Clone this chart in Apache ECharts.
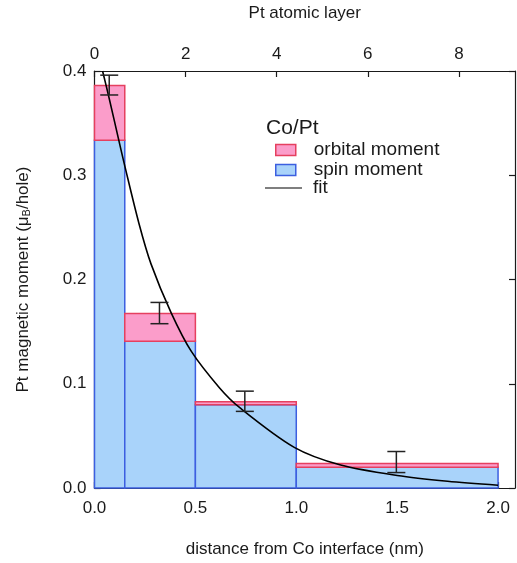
<!DOCTYPE html>
<html>
<head>
<meta charset="utf-8">
<script src="https://cdn.jsdelivr.net/npm/echarts@6/dist/echarts.min.js"></script>
<style>
  html, body { margin: 0; padding: 0; background: #fff; }
  #chart { width: 517px; height: 563px; }
</style>
</head>
<body>
<div id="chart"></div>
<script>
// bins in nm (left edge, right edge)
const binEdges = [0, 0.15, 0.5, 1.0, 2.0];
const spinMoment = [0.3335, 0.1408, 0.0798, 0.0198];
const totalMoment = [0.386, 0.1674, 0.0827, 0.0236];

// error bars: x position, low, high
const errX = [0.073, 0.322, 0.745, 1.496];
const errLow = [0.377, 0.1576, 0.0735, 0.0148];
const errHigh = [0.396, 0.178, 0.0929, 0.035];

// fit curve
const fitX = [0.04, 0.07, 0.12, 0.15, 0.22, 0.28, 0.38, 0.48, 0.62, 0.72, 0.99, 1.22, 1.50, 1.75, 2.00];
const fitY = [0.400, 0.376, 0.334, 0.309, 0.254, 0.215, 0.168, 0.131, 0.096, 0.077, 0.039, 0.022, 0.012, 0.0065, 0.0027];

const xTicks = [0, 0.5, 1.0, 1.5, 2.0];
const layerTicks = [0, 2, 4, 6, 8];

const pink = { fill: '#fb9dca', stroke: '#e5405f' };
const blue = { fill: '#a9d3fa', stroke: '#3c5fe0' };
const font = 'Liberation Sans, Arial, Helvetica, sans-serif';
const ink = '#1a1a1a';

const spinData = [], orbData = [];
for (let i = 0; i < spinMoment.length; i++) {
    spinData.push([binEdges[i], binEdges[i + 1], 0, spinMoment[i]]);
    orbData.push([binEdges[i], binEdges[i + 1], spinMoment[i], totalMoment[i]]);
}
const errData = errX.map((x, i) => [x, errLow[i], errHigh[i]]);
const fitData = fitX.map((x, i) => [x, fitY[i]]);

function binRect(col) {
    return function (params, api) {
        const a = api.coord([api.value(0), api.value(2)]);
        const b = api.coord([api.value(1), api.value(3)]);
        return {
            type: 'rect',
            shape: { x: a[0], y: b[1], width: b[0] - a[0], height: a[1] - b[1] },
            style: { fill: col.fill, stroke: col.stroke, lineWidth: 1.5 }
        };
    };
}

function errBar(params, api) {
    const lo = api.coord([api.value(0), api.value(1)]);
    const hi = api.coord([api.value(0), api.value(2)]);
    const w = 9;
    const st = { stroke: '#222', lineWidth: 1.5 };
    return {
        type: 'group',
        children: [
            { type: 'line', shape: { x1: lo[0], y1: lo[1], x2: hi[0], y2: hi[1] }, style: st },
            { type: 'line', shape: { x1: lo[0] - w, y1: lo[1], x2: lo[0] + w, y2: lo[1] }, style: st },
            { type: 'line', shape: { x1: hi[0] - w, y1: hi[1], x2: hi[0] + w, y2: hi[1] }, style: st }
        ]
    };
}

const axisLine = { show: true, onZero: false, lineStyle: { color: ink, width: 1.2 } };
const tickIn = { show: true, inside: true, length: 6, lineStyle: { color: ink, width: 1.2 } };
const lbl = { color: ink, fontSize: 17, fontFamily: font };

const chart = echarts.init(document.getElementById('chart'));
chart.setOption({
    animation: false,
    backgroundColor: '#fff',
    title: {
        text: 'Co/Pt', left: 261, top: 113,
        textStyle: { fontSize: 21, fontWeight: 'normal', color: ink, fontFamily: font }
    },
    legend: [{
        orient: 'vertical', left: 275, top: 140, padding: 0, itemGap: 0,
        itemWidth: 20, itemHeight: 11,
        textStyle: { fontSize: 19, lineHeight: 20, color: ink, fontFamily: font, padding: [0, 0, 0, 13] },
        data: [
            { name: 'orbital moment', icon: 'rect', itemStyle: { color: pink.fill, borderColor: pink.stroke, borderWidth: 1.5 } },
            { name: 'spin moment', icon: 'rect', itemStyle: { color: blue.fill, borderColor: blue.stroke, borderWidth: 1.5 } }
        ]
    }, {
        orient: 'vertical', left: 265, top: 178, padding: 0,
        itemWidth: 37, itemHeight: 11,
        textStyle: { fontSize: 19, lineHeight: 20, color: ink, fontFamily: font, padding: [0, 0, 0, 6] },
        data: [{ name: 'fit', icon: 'path://M0,5H37V6H0Z', itemStyle: { color: '#000' } }]
    }],
    grid: { left: 94.5, right: 2, top: 69, bottom: 73.5 },
    xAxis: [{
        type: 'value', position: 'bottom', min: 0, max: 2.084, interval: 0.5,
        name: 'distance from Co interface (nm)', nameLocation: 'middle', nameGap: 53,
        nameTextStyle: { color: ink, fontSize: 17, fontFamily: font },
        axisLine: axisLine, axisTick: tickIn, splitLine: { show: false },
        axisLabel: Object.assign({ margin: 12, showMaxLabel: false,
            formatter: v => xTicks.indexOf(v) >= 0 ? v.toFixed(1) : '' }, lbl)
    }, {
        type: 'value', position: 'top', min: 0, max: 9.23, interval: 2,
        name: 'Pt atomic layer', nameLocation: 'middle', nameGap: 49,
        nameTextStyle: { color: ink, fontSize: 17, fontFamily: font },
        axisLine: axisLine, axisTick: tickIn, splitLine: { show: false },
        axisLabel: Object.assign({ margin: 8, showMaxLabel: false,
            formatter: v => layerTicks.indexOf(v) >= 0 ? String(v) : '' }, lbl)
    }],
    yAxis: [{
        type: 'value', position: 'left', min: 0, max: 0.4, interval: 0.1,
        name: 'Pt magnetic moment (μ{sub|B}/hole)', nameLocation: 'middle', nameGap: 62, nameRotate: 90,
        nameTextStyle: { color: ink, fontSize: 17, fontFamily: font,
            rich: { sub: { fontSize: 11, fontFamily: font, color: ink, verticalAlign: 'bottom', padding: [8, 0, 0, 0] } } },
        axisLine: axisLine, axisTick: tickIn, splitLine: { show: false },
        axisLabel: Object.assign({ margin: 8, formatter: v => v.toFixed(1) }, lbl)
    }, {
        type: 'value', position: 'right', min: 0, max: 0.4, interval: 0.1,
        axisLine: axisLine, axisTick: tickIn, splitLine: { show: false },
        axisLabel: { show: false }
    }],
    series: [{
        name: 'spin moment', type: 'custom', renderItem: binRect(blue),
        itemStyle: { color: blue.fill }, encode: { x: [0, 1], y: [2, 3] }, data: spinData, z: 2
    }, {
        name: 'orbital moment', type: 'custom', renderItem: binRect(pink),
        itemStyle: { color: pink.fill }, encode: { x: [0, 1], y: [2, 3] }, data: orbData, z: 2
    }, {
        name: 'fit', type: 'line', data: fitData, smooth: 0.3, showSymbol: false,
        lineStyle: { color: '#000', width: 1.6 }, itemStyle: { color: '#000' }, z: 4
    }, {
        name: 'error', type: 'custom', renderItem: errBar,
        encode: { x: 0, y: [1, 2] }, data: errData, z: 5
    }]
});
</script>
</body>
</html>
